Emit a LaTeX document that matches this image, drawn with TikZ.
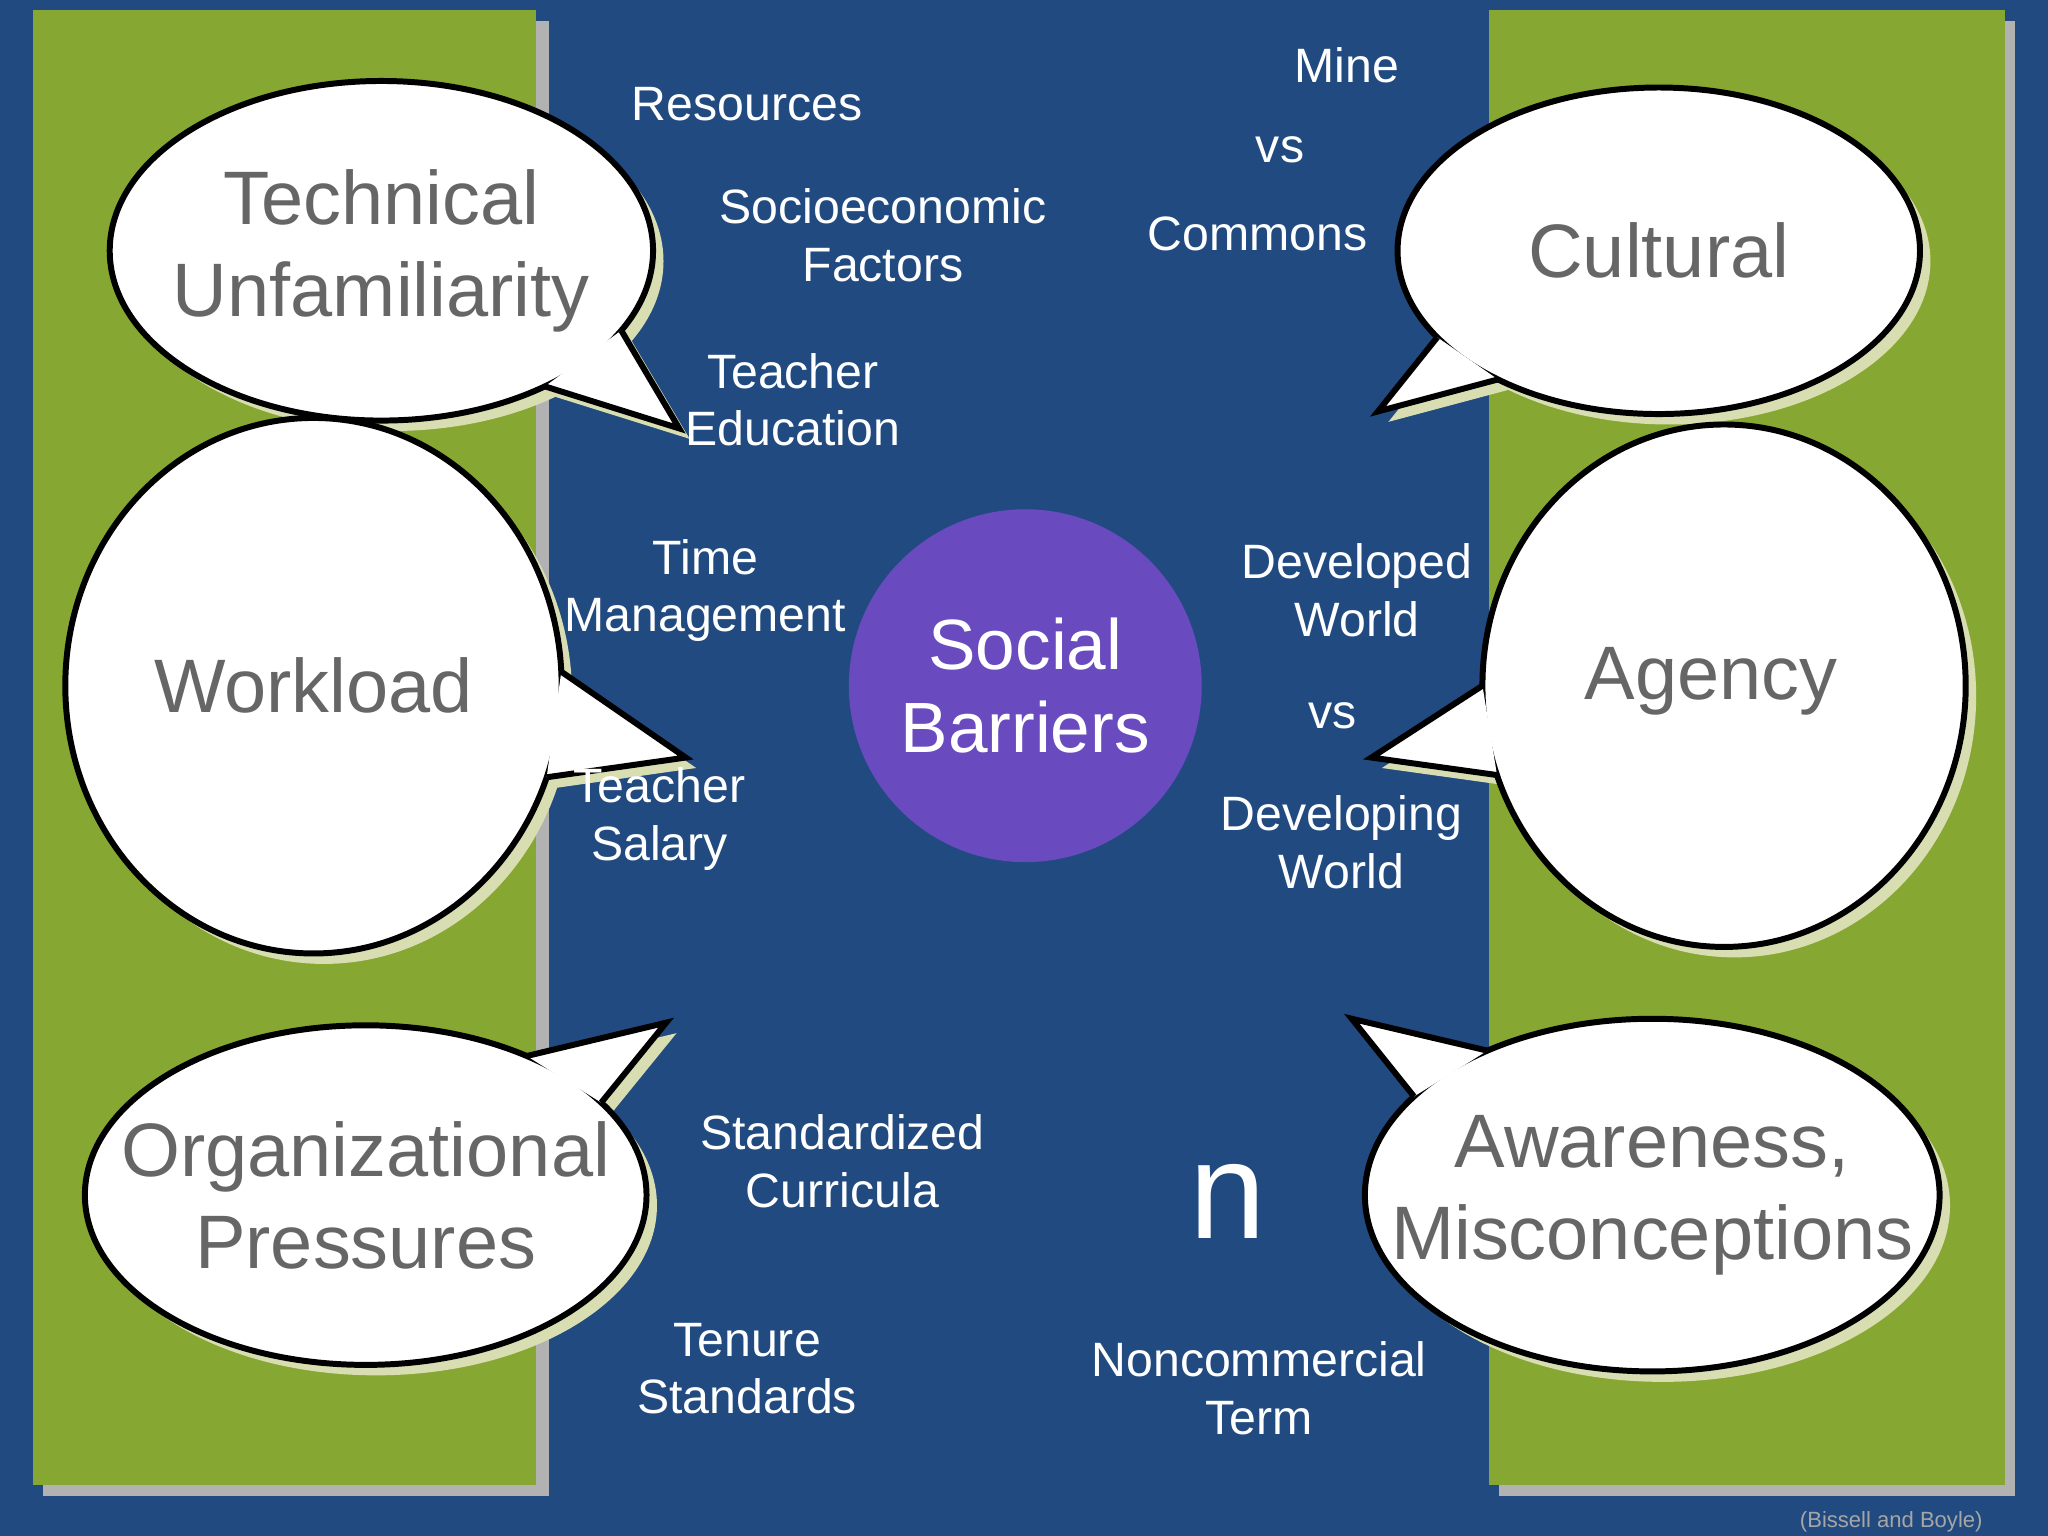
\documentclass[tikz,border=0pt]{standalone}
\usepackage{fontspec}
\setmainfont{Liberation Sans}
\usetikzlibrary{calc}
\definecolor{bg}{HTML}{214A80}
\definecolor{grn}{HTML}{86A832}
\definecolor{shd}{HTML}{D9DDB2}
\definecolor{txg}{HTML}{666666}
\definecolor{purp}{HTML}{6A4BBF}
\tikzset{
  lbl/.style={text=white,font=\fontsize{10.5}{12.5}\selectfont,align=center},
  btxt/.style={text=txg,font=\fontsize{16.5}{20}\selectfont,align=center},
}
% #1 center, #2 rx, #3 ry, #4 angle1, #5 angle2, #6 tip, #7 name
\newcommand{\bubble}[7]{
  \begin{scope}[shift={(8,8)}]
    \fill[shd] #1 ellipse [x radius=#2, y radius=#3];
    \fill[shd] ($#1+(#4:#2 and #3)$) -- #6 -- ($#1+(#5:#2 and #3)$) -- cycle;
  \end{scope}
  \draw[fill=white,line width=1.3pt] #1 ellipse [x radius=#2, y radius=#3];
  \fill[white] ($#1+(#4:#2 and #3)$) -- #6 -- ($#1+(#5:#2 and #3)$) -- cycle;
  \draw[line width=1.3pt] ($#1+(#4:#2 and #3)$) -- #6 -- ($#1+(#5:#2 and #3)$);
  \coordinate (#7) at #1;
}
\begin{document}
\begin{tikzpicture}[x=0.01cm,y=-0.01cm]
\fill[bg] (0,0) rectangle (1568,1176);
\useasboundingbox (0,0) rectangle (1568,1176);
\fill[gray!60] (33,16) rectangle (420,1145);
\fill[grn] (25,8) rectangle (410,1137);
\fill[gray!60] (1148,16) rectangle (1543,1145);
\fill[grn] (1140,8) rectangle (1535,1137);

\bubble{(292,192)}{208}{130}{28}{53}{(520,328)}{tech}
\node[btxt] at (tech) {Technical\\Unfamiliarity};
\bubble{(240,525)}{190}{205}{-3}{20}{(525,580)}{work}
\node[btxt] at (work) {Workload};
\bubble{(280,915)}{215}{130}{-55}{-33}{(510,783)}{org}
\node[btxt] at (org) {Organizational\\Pressures};
\bubble{(1270,192)}{200}{125}{148}{128}{(1055,315)}{cult}
\node[btxt] at (cult) {Cultural};
\bubble{(1320,525)}{185}{200}{180}{160}{(1050,580)}{agen}
\node[btxt] at (1310,522) {Agency};
\bubble{(1265,915)}{220}{135}{-146}{-125}{(1035,780)}{aware}
\node[btxt] at (aware) {Awareness,\\Misconceptions};

\node[circle,fill=purp,minimum size=2.7cm,text=white,font=\fontsize{15.5}{18}\selectfont,align=center] (sb) at (785,525) {Social\\Barriers};

\node[lbl] (r1) at (572,80) {Resources};
\node[lbl] (r2) at (676,180) {Socioeconomic\\Factors};
\node[lbl] (r3) at (607,306) {Teacher\\Education};
\node[lbl] (r4) at (540,452) {Time\\Management};
\node[lbl] (r5) at (505,627) {Teacher\\Salary};
\node[lbl] (r6) at (645,889) {Standardized\\Curricula};
\node[lbl] (r7) at (572,1048) {Tenure\\Standards};
\node[lbl] (m1) at (1031,50) {Mine};
\node[lbl] (m2) at (980,115) {vs};
\node[lbl] (m3) at (963,179) {Commons};
\node[lbl] (d1) at (1039,452) {Developed\\World};
\node[lbl] (d2) at (1020,548) {vs};
\node[lbl] (d3) at (1027,645) {Developing\\World};
\node[text=white,font=\fontsize{30}{32}\selectfont] (n) at (940,920) {n};
\node[lbl] (nc) at (964,1063) {Noncommercial\\Term};
\node[text=gray!70,font=\fontsize{4.8}{6}\selectfont] (cite) at (1448,1165) {(Bissell and Boyle)};
\end{tikzpicture}
\end{document}
